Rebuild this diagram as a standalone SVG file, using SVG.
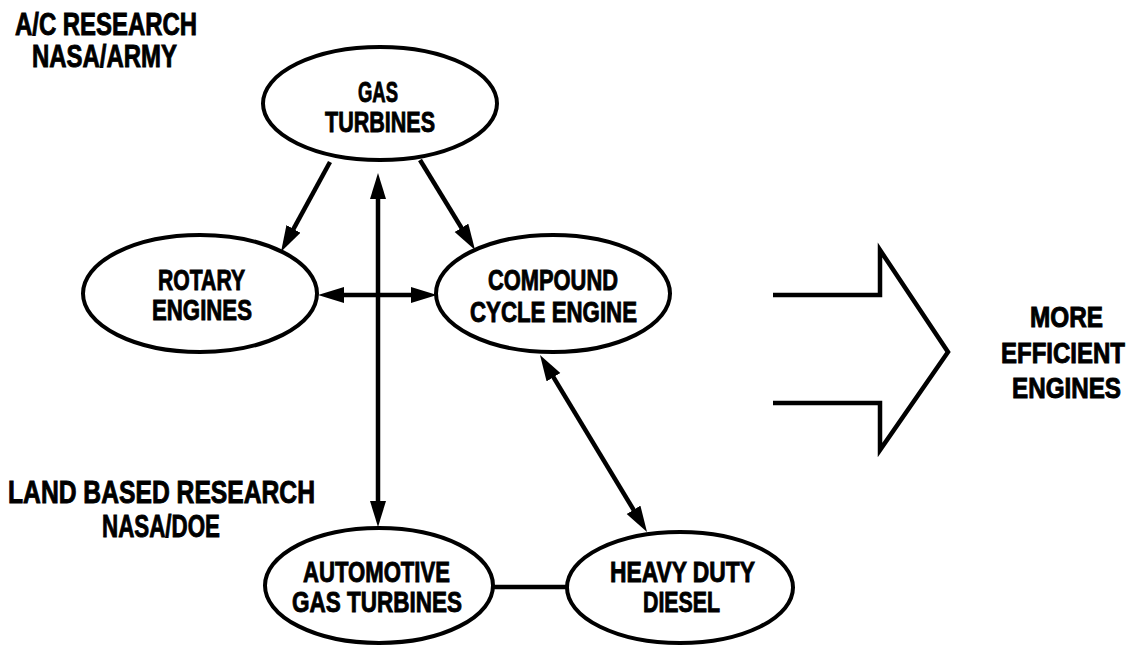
<svg xmlns="http://www.w3.org/2000/svg" width="1135" height="646" viewBox="0 0 1135 646">
<style>
.bg{fill:#ffffff}
.node ellipse{fill:#ffffff;stroke:#000000;stroke-width:4}
text{font-family:"Liberation Sans Narrow","Liberation Sans",Arial,sans-serif;font-weight:bold;fill:#000000;stroke:#000000;stroke-width:0.9;font-size:29px}
.free{font-size:31px}
.right{font-size:24px;stroke-width:0.8}
.conn{stroke:#000000;stroke-width:4.5;fill:none}
.big{stroke:#000000;stroke-width:4.5;fill:none;stroke-linejoin:miter}
</style>
<defs>
<marker id="ah" markerUnits="userSpaceOnUse" markerWidth="28" markerHeight="18" refX="15" refY="8" orient="auto-start-reverse" viewBox="0 0 28 18">
<path d="M0,0 L26,8 L0,16 z" fill="#000000"/>
</marker>
</defs>
<rect class="bg" x="0" y="0" width="1135" height="646"/>

<g id="label-ac">
<text class="free" x="15" y="35" textLength="182" lengthAdjust="spacingAndGlyphs">A/C RESEARCH</text>
<text class="free" x="32" y="67" textLength="145" lengthAdjust="spacingAndGlyphs">NASA/ARMY</text>
</g>
<g id="label-land">
<text class="free" x="8" y="503" textLength="307" lengthAdjust="spacingAndGlyphs">LAND BASED RESEARCH</text>
<text class="free" x="102" y="537" textLength="118" lengthAdjust="spacingAndGlyphs">NASA/DOE</text>
</g>

<g id="connectors">
<line class="conn" x1="330" y1="162" x2="286.3" y2="242.1" marker-end="url(#ah)"/>
<line class="conn" x1="420" y1="160" x2="469.3" y2="240.6" marker-end="url(#ah)"/>
<line class="conn" x1="378" y1="184" x2="378" y2="516" marker-start="url(#ah)" marker-end="url(#ah)"/>
<line class="conn" x1="329" y1="295" x2="426" y2="295" marker-start="url(#ah)" marker-end="url(#ah)"/>
<line class="conn" x1="545.7" y1="364.4" x2="641.3" y2="522.6" marker-start="url(#ah)" marker-end="url(#ah)"/>
<line class="conn" x1="492" y1="587" x2="568" y2="587" stroke-width="5"/>
</g>

<g id="gas-turbines" class="node">
<ellipse cx="380" cy="103.5" rx="117" ry="56.5"/>
<text x="358" y="102" textLength="40" lengthAdjust="spacingAndGlyphs">GAS</text>
<text x="325" y="132" textLength="110" lengthAdjust="spacingAndGlyphs">TURBINES</text>
</g>
<g id="rotary-engines" class="node">
<ellipse cx="200" cy="293.5" rx="117" ry="58.5"/>
<text x="158" y="290" textLength="87" lengthAdjust="spacingAndGlyphs">ROTARY</text>
<text x="152" y="320" textLength="100" lengthAdjust="spacingAndGlyphs">ENGINES</text>
</g>
<g id="compound-cycle-engine" class="node">
<ellipse cx="553" cy="293.5" rx="117" ry="58.5"/>
<text x="488" y="290" textLength="130" lengthAdjust="spacingAndGlyphs">COMPOUND</text>
<text x="470" y="322" textLength="167" lengthAdjust="spacingAndGlyphs">CYCLE ENGINE</text>
</g>
<g id="automotive-gas-turbines" class="node">
<ellipse cx="379" cy="585.5" rx="114" ry="57.5"/>
<text x="303" y="582" textLength="147" lengthAdjust="spacingAndGlyphs">AUTOMOTIVE</text>
<text x="292" y="612" textLength="170" lengthAdjust="spacingAndGlyphs">GAS TURBINES</text>
</g>
<g id="heavy-duty-diesel" class="node">
<ellipse cx="680" cy="587.5" rx="113" ry="55.5"/>
<text x="610" y="582" textLength="145" lengthAdjust="spacingAndGlyphs">HEAVY DUTY</text>
<text x="643" y="612" textLength="77" lengthAdjust="spacingAndGlyphs">DIESEL</text>
</g>

<g id="big-arrow">
<polyline class="big" points="773,295 880,295 880,250 948,352 880,450 880,403 773,403"/>
</g>
<g id="more-efficient-engines">
<text class="right" transform="translate(1030,327) scale(1,1.2)" x="0" y="0" textLength="73" lengthAdjust="spacingAndGlyphs">MORE</text>
<text class="right" transform="translate(1001,363) scale(1,1.2)" x="0" y="0" textLength="124" lengthAdjust="spacingAndGlyphs">EFFICIENT</text>
<text class="right" transform="translate(1012,398) scale(1,1.2)" x="0" y="0" textLength="109" lengthAdjust="spacingAndGlyphs">ENGINES</text>
</g>
</svg>
